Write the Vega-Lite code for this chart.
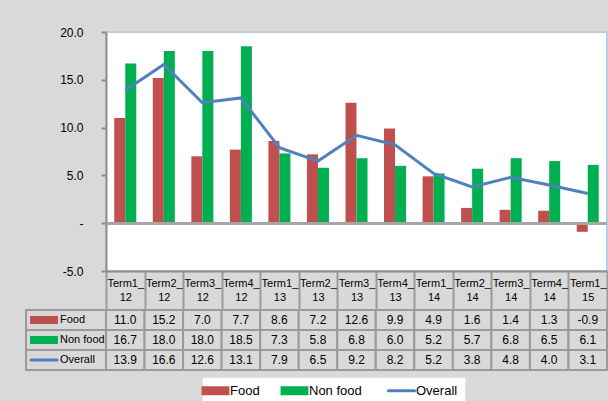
{
  "$schema": "https://vega.github.io/schema/vega-lite/v6.json",
  "background": "#d9d9d9",
  "padding": {"left": 24, "top": 25, "right": 0, "bottom": 0},
  "datasets": {
    "d": [
      {"term": "Term1_12", "series": "Food", "value": 11.0},
      {"term": "Term2_12", "series": "Food", "value": 15.2},
      {"term": "Term3_12", "series": "Food", "value": 7.0},
      {"term": "Term4_12", "series": "Food", "value": 7.7},
      {"term": "Term1_13", "series": "Food", "value": 8.6},
      {"term": "Term2_13", "series": "Food", "value": 7.2},
      {"term": "Term3_13", "series": "Food", "value": 12.6},
      {"term": "Term4_13", "series": "Food", "value": 9.9},
      {"term": "Term1_14", "series": "Food", "value": 4.9},
      {"term": "Term2_14", "series": "Food", "value": 1.6},
      {"term": "Term3_14", "series": "Food", "value": 1.4},
      {"term": "Term4_14", "series": "Food", "value": 1.3},
      {"term": "Term1_15", "series": "Food", "value": -0.9},
      {"term": "Term1_12", "series": "Non food", "value": 16.7},
      {"term": "Term2_12", "series": "Non food", "value": 18.0},
      {"term": "Term3_12", "series": "Non food", "value": 18.0},
      {"term": "Term4_12", "series": "Non food", "value": 18.5},
      {"term": "Term1_13", "series": "Non food", "value": 7.3},
      {"term": "Term2_13", "series": "Non food", "value": 5.8},
      {"term": "Term3_13", "series": "Non food", "value": 6.8},
      {"term": "Term4_13", "series": "Non food", "value": 6.0},
      {"term": "Term1_14", "series": "Non food", "value": 5.2},
      {"term": "Term2_14", "series": "Non food", "value": 5.7},
      {"term": "Term3_14", "series": "Non food", "value": 6.8},
      {"term": "Term4_14", "series": "Non food", "value": 6.5},
      {"term": "Term1_15", "series": "Non food", "value": 6.1},
      {"term": "Term1_12", "series": "Overall", "value": 13.9},
      {"term": "Term2_12", "series": "Overall", "value": 16.6},
      {"term": "Term3_12", "series": "Overall", "value": 12.6},
      {"term": "Term4_12", "series": "Overall", "value": 13.1},
      {"term": "Term1_13", "series": "Overall", "value": 7.9},
      {"term": "Term2_13", "series": "Overall", "value": 6.5},
      {"term": "Term3_13", "series": "Overall", "value": 9.2},
      {"term": "Term4_13", "series": "Overall", "value": 8.2},
      {"term": "Term1_14", "series": "Overall", "value": 5.2},
      {"term": "Term2_14", "series": "Overall", "value": 3.8},
      {"term": "Term3_14", "series": "Overall", "value": 4.8},
      {"term": "Term4_14", "series": "Overall", "value": 4.0},
      {"term": "Term1_15", "series": "Overall", "value": 3.1}
    ]
  },
  "columns": 2,
  "bounds": "flush",
  "spacing": {"row": 39, "column": 0},
  "config": {
    "font": "Liberation Sans",
    "view": {"stroke": null},
    "axis": {"labelColor": "#000000"},
    "legend": {"labelColor": "#000000"}
  },
  "concat": [
    {
      "width": 80,
      "height": 239,
      "data": {"values": []},
      "mark": "point"
    },
    {
      "width": 501,
      "height": 239,
      "data": {"name": "d"},
      "view": {"fill": "#ffffff", "stroke": "#b9cde5", "strokeWidth": 2},
      "layer": [
        {
          "transform": [{"filter": "datum.series !== 'Overall'"}],
          "mark": {"type": "bar"},
          "encoding": {
            "x": {
              "field": "term", "type": "nominal",
              "scale": {"domain": ["Term1_12","Term2_12","Term3_12","Term4_12","Term1_13","Term2_13","Term3_13","Term4_13","Term1_14","Term2_14","Term3_14","Term4_14","Term1_15"], "paddingInner": 0, "paddingOuter": 0},
              "axis": {"title": null, "labelAngle": 0, "labelExpr": "[slice(datum.label,0,6), slice(datum.label,6)]", "labelBaseline": "top", "labelLineHeight": 14, "labelPadding": -33, "labelFontSize": 11, "labelOverlap": false, "labelFlush": false, "tickBand": "extent", "tickSize": 39, "tickWidth": 2, "tickColor": "#9a9a9a", "domainColor": "#8c8c8c", "domainWidth": 2}
            },
            "xOffset": {"field": "series", "type": "nominal", "sort": ["Food", "Non food"], "scale": {"paddingInner": 0, "paddingOuter": 0.75}},
            "y": {
              "field": "value", "type": "quantitative",
              "scale": {"domain": [-5, 20], "nice": false, "zero": false},
              "axis": {"title": null, "values": [-5, 0, 5, 10, 15, 20], "grid": false, "labelExpr": "datum.value === 0 ? '-\u00a0\u00a0' : replace(format(datum.value, '.1f'), '\u2212', '-')", "labelFontSize": 12, "labelPadding": 18, "tickSize": 5, "tickWidth": 2, "tickColor": "#8c8c8c", "domainColor": "#8c8c8c", "domainWidth": 2}
            },
            "color": {
              "field": "series", "type": "nominal",
              "scale": {"domain": ["Food", "Non food", "Overall"], "range": ["#c0504d", "#00b050", "#4f81bd"]},
              "legend": {
                "orient": "none", "legendX": 176, "legendY": 345, "direction": "horizontal", "title": null,
                "fillColor": "#ffffff", "strokeColor": "#dce6f2", "padding": 7, "labelFontSize": 13, "labelOffset": 8, "columnPadding": 20,
                "symbolSize": 324, "symbolType": "M-1.55,-0.5H1.55V0.5H-1.55Z",
                "encode": {
                  "symbols": {
                    "update": {
                      "shape": {"signal": "datum.value === 'Overall' ? 'M-1.45,0H1.45' : 'M-1.55,-0.5H1.55V0.5H-1.55Z'"},
                      "fill": {"signal": "datum.value === 'Overall' ? 'transparent' : scale('color', datum.value)"},
                      "stroke": {"signal": "scale('color', datum.value)"},
                      "strokeWidth": {"signal": "datum.value === 'Overall' ? 3 : 0"},
                      "strokeCap": {"value": "round"},
                      "opacity": {"value": 1}
                    }
                  }
                }
              }
            }
          }
        },
        {
          "mark": {"type": "rule", "color": "#a6a6a6", "strokeWidth": 2},
          "encoding": {"y": {"datum": 0}}
        },
        {
          "transform": [{"filter": "datum.series === 'Overall'"}],
          "mark": {"type": "line", "strokeWidth": 3},
          "encoding": {
            "x": {"field": "term", "type": "nominal", "scale": {"domain": ["Term1_12","Term2_12","Term3_12","Term4_12","Term1_13","Term2_13","Term3_13","Term4_13","Term1_14","Term2_14","Term3_14","Term4_14","Term1_15"]}},
            "y": {"field": "value", "type": "quantitative"},
            "color": {"field": "series", "type": "nominal"}
          }
        }
      ]
    },
    {
      "width": 80,
      "height": 60,
      "data": {"name": "d"},
      "transform": [{"filter": "datum.term === 'Term1_12'"}],
      "encoding": {
        "y": {"field": "series", "type": "nominal", "sort": ["Food", "Non food", "Overall"], "scale": {"paddingInner": 0, "paddingOuter": 0}, "axis": null}
      },
      "layer": [
        {
          "mark": {"type": "rect", "fill": "#d9d9d9", "stroke": "#9a9a9a", "strokeWidth": 2},
          "encoding": {"x": {"value": 0}, "x2": {"value": "width"}}
        },
        {
          "transform": [{"filter": "datum.series !== 'Overall'"}],
          "mark": {"type": "point", "filled": true, "opacity": 1, "size": 324, "shape": "M-1.55,-0.45H1.55V0.45H-1.55Z", "xOffset": -22},
          "encoding": {"color": {"field": "series", "type": "nominal", "legend": null}}
        },
        {
          "transform": [{"filter": "datum.series === 'Overall'"}],
          "mark": {"type": "point", "filled": false, "opacity": 1, "size": 324, "shape": "M-1.45,0H1.45", "strokeWidth": 3, "strokeCap": "round", "xOffset": -22},
          "encoding": {"color": {"field": "series", "type": "nominal", "legend": null}}
        },
        {
          "mark": {"type": "text", "align": "left", "dx": -6, "fontSize": 11, "color": "#000000"},
          "encoding": {"text": {"field": "series"}}
        }
      ]
    },
    {
      "width": 501,
      "height": 60,
      "data": {"name": "d"},
      "encoding": {
        "x": {"field": "term", "type": "nominal", "scale": {"domain": ["Term1_12","Term2_12","Term3_12","Term4_12","Term1_13","Term2_13","Term3_13","Term4_13","Term1_14","Term2_14","Term3_14","Term4_14","Term1_15"], "paddingInner": 0, "paddingOuter": 0}, "axis": null},
        "y": {"field": "series", "type": "nominal", "sort": ["Food", "Non food", "Overall"], "scale": {"paddingInner": 0, "paddingOuter": 0}, "axis": null}
      },
      "layer": [
        {
          "mark": {"type": "rect", "fill": "#d9d9d9", "stroke": "#9a9a9a", "strokeWidth": 2}
        },
        {
          "mark": {"type": "text", "fontSize": 12, "color": "#000000", "text": {"expr": "replace(format(datum.value, '.1f'), '\u2212', '-')"}}
        }
      ]
    }
  ]
}
